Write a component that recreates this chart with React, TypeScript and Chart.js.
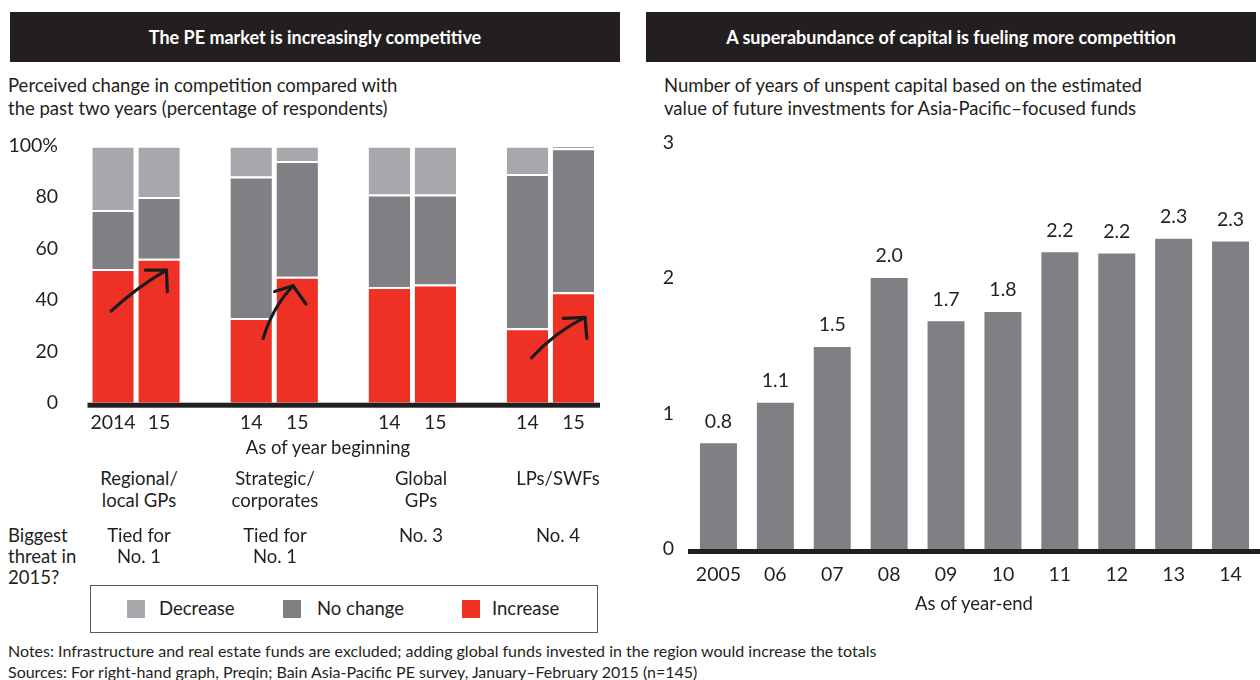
import React, { useEffect, useRef } from "react";
import { Chart, registerables } from "chart.js";

Chart.register(...registerables);

// ---------- Data: left chart ----------
const compCategories = ["2014", "15", "", "14", "15", "", "14", "15", "", "14", "15"];
const increaseValues = [52, 56, null, 33, 49, null, 45, 46, null, 29, 43];
const noChangeValues = [23, 24, null, 55, 45, null, 36, 35, null, 60, 56];
const decreaseValues = [25, 20, null, 12, 6, null, 19, 19, null, 11, 1];
const compYTicks = [0, 20, 40, 60, 80, 100];
const seriesNames = ["Decrease", "No change", "Increase"];
const groupLabels = [["Regional/", "local GPs"], ["Strategic/", "corporates"], ["Global", "GPs"], ["LPs/SWFs"]];
const threatLabels = [["Tied for", "No. 1"], ["Tied for", "No. 1"], ["No. 3"], ["No. 4"]];

// ---------- Data: right chart ----------
const capitalYears = ["2005", "06", "07", "08", "09", "10", "11", "12", "13", "14"];
const capitalValues = [0.78, 1.08, 1.49, 2.0, 1.68, 1.75, 2.19, 2.18, 2.29, 2.27];
const capitalYTicks = [0, 1, 2, 3];

// ---------- Styles ----------
const FONT = "Lato, 'Noto Sans', sans-serif";
const INK = "#231f20";
const RED = "#ee3124";
const DARK = "#808084";
const LIGHT = "#a7a8ac";
const TXT = 18.5;
const NUM = 19.5;

// hand-drawn arrows (in category-index / value units)
const arrowNotes = [
  { from: [-0.04, 35.7], ctrl: [0.51, 44.8], to: [1.16, 51.6], headA: [0.7, 51.6], headB: [1.18, 43.2] },
  { from: [3.26, 25], ctrl: [3.46, 37], to: [3.91, 45.5], headA: [3.51, 43.3], headB: [4.19, 38.4] },
  { from: [9.09, 17.5], ctrl: [9.59, 27.3], to: [10.25, 33.2], headA: [9.78, 32.8], headB: [10.29, 25] },
];

const noScalePadding = (s: any) => {
  s.paddingTop = 0;
  s.paddingBottom = 0;
  s.paddingLeft = 0;
  s.paddingRight = 0;
};

const baselinePlugin = {
  id: "baseline",
  afterDatasetsDraw(chart: any) {
    const { ctx, chartArea } = chart;
    const ext = chart.options.plugins.baseline || {};
    ctx.save();
    ctx.fillStyle = INK;
    ctx.fillRect(chartArea.left - (ext.left ?? 2), chartArea.bottom, chartArea.right - chartArea.left + (ext.left ?? 2) + (ext.right ?? 3), 5);
    ctx.restore();
  },
};

const arrowPlugin = {
  id: "arrows",
  afterDatasetsDraw(chart: any) {
    const { ctx } = chart;
    const xs = chart.scales.x;
    const ys = chart.scales.y;
    const P = (p: number[]) => [xs.getPixelForValue(p[0]), ys.getPixelForValue(p[1])];
    ctx.save();
    ctx.strokeStyle = "#1b1b1b";
    ctx.lineWidth = 3.2;
    ctx.lineCap = "round";
    ctx.lineJoin = "round";
    arrowNotes.forEach((a) => {
      const f = P(a.from), c = P(a.ctrl), t = P(a.to), h1 = P(a.headA), h2 = P(a.headB);
      ctx.beginPath();
      ctx.moveTo(f[0], f[1]);
      ctx.quadraticCurveTo(c[0], c[1], t[0], t[1]);
      ctx.stroke();
      ctx.beginPath();
      ctx.moveTo(h1[0], h1[1]);
      ctx.lineTo(t[0], t[1]);
      ctx.lineTo(h2[0], h2[1]);
      ctx.stroke();
    });
    ctx.restore();
  },
};

const valueLabelPlugin = {
  id: "valueLabels",
  afterDatasetsDraw(chart: any) {
    const { ctx } = chart;
    const meta = chart.getDatasetMeta(0);
    ctx.save();
    ctx.fillStyle = INK;
    ctx.font = `${NUM}px ${FONT}`;
    ctx.textAlign = "center";
    ctx.textBaseline = "middle";
    meta.data.forEach((bar: any, i: number) => {
      ctx.fillText(capitalValues[i].toFixed(1), bar.x, bar.y - 22);
    });
    ctx.restore();
  },
};

function CompetitionChart() {
  const ref = useRef<HTMLCanvasElement>(null);
  useEffect(() => {
    const seg = { top: 2, left: 0, right: 0, bottom: 0 };
    const chart = new Chart(ref.current as HTMLCanvasElement, {
      type: "bar",
      data: {
        labels: compCategories,
        datasets: [
          { label: seriesNames[2], data: increaseValues, backgroundColor: RED, borderColor: "#ffffff", borderWidth: seg, borderSkipped: false },
          { label: seriesNames[1], data: noChangeValues, backgroundColor: DARK, borderColor: "#ffffff", borderWidth: seg, borderSkipped: false },
          { label: seriesNames[0], data: decreaseValues, backgroundColor: LIGHT, borderColor: "#ffffff", borderWidth: seg, borderSkipped: false },
        ],
      } as any,
      options: {
        animation: false,
        responsive: false,
        events: [],
        layout: { autoPadding: false, padding: { top: 25.7, right: 23.5, left: 0, bottom: 0 } },
        datasets: { bar: { barPercentage: 0.9, categoryPercentage: 1 } } as any,
        plugins: { legend: { display: false }, tooltip: { enabled: false }, baseline: { left: 2.5, right: 3.5 } } as any,
        scales: {
          x: {
            stacked: true,
            grid: { display: false, drawTicks: false },
            border: { display: false },
            ticks: { color: INK, font: { family: FONT, size: NUM }, padding: 8.5, maxRotation: 0, autoSkip: false },
            afterFit: (s: any) => { s.height = 47.3; noScalePadding(s); },
          },
          y: {
            stacked: true,
            min: compYTicks[0],
            max: compYTicks[compYTicks.length - 1],
            grid: { display: false, drawTicks: false },
            border: { display: false },
            afterBuildTicks: (s: any) => { s.ticks = compYTicks.map((v) => ({ value: v })); },
            ticks: {
              color: INK,
              font: { family: FONT, size: NUM },
              padding: 32,
              callback: (v: any) => (v === 100 ? "100%" : String(v)),
            },
            afterFit: (s: any) => { s.width = 90; noScalePadding(s); },
          },
        },
      } as any,
      plugins: [baselinePlugin, arrowPlugin],
    });
    return () => chart.destroy();
  }, []);
  return <canvas ref={ref} width={620} height={330} style={{ position: "absolute", left: 0, top: 120 }} />;
}

function CapitalChart() {
  const ref = useRef<HTMLCanvasElement>(null);
  useEffect(() => {
    const chart = new Chart(ref.current as HTMLCanvasElement, {
      type: "bar",
      data: {
        labels: capitalYears,
        datasets: [{ label: "Years of unspent capital", data: capitalValues, backgroundColor: DARK, borderWidth: 0 }],
      },
      options: {
        animation: false,
        responsive: false,
        events: [],
        layout: { autoPadding: false, padding: { top: 22.5, right: 1, left: 0, bottom: 0 } },
        datasets: { bar: { barPercentage: 0.65, categoryPercentage: 1 } } as any,
        plugins: { legend: { display: false }, tooltip: { enabled: false }, baseline: { left: 2, right: 1 } } as any,
        scales: {
          x: {
            grid: { display: false, drawTicks: false },
            border: { display: false },
            ticks: { color: INK, font: { family: FONT, size: NUM }, padding: 14.5, maxRotation: 0, autoSkip: false },
            afterFit: (s: any) => { s.height = 51; noScalePadding(s); },
          },
          y: {
            min: capitalYTicks[0],
            max: capitalYTicks[capitalYTicks.length - 1],
            grid: { display: false, drawTicks: false },
            border: { display: false },
            afterBuildTicks: (s: any) => { s.ticks = capitalYTicks.map((v) => ({ value: v })); },
            ticks: { color: INK, font: { family: FONT, size: NUM }, padding: 16 },
            afterFit: (s: any) => { s.width = 50; noScalePadding(s); },
          },
        },
      } as any,
      plugins: [baselinePlugin, valueLabelPlugin],
    });
    return () => chart.destroy();
  }, []);
  return <canvas ref={ref} width={620} height={480} style={{ position: "absolute", left: 640, top: 120 }} />;
}

const abs = (s: React.CSSProperties): React.CSSProperties => ({ position: "absolute", whiteSpace: "nowrap", ...s });

function Centered({ x, top, lines, lh = 22 }: { x: number; top: number; lines: string[]; lh?: number }) {
  return (
    <div style={abs({ left: x - 100, width: 200, top, textAlign: "center", fontSize: TXT, lineHeight: `${lh}px` })}>
      {lines.map((l, i) => (
        <div key={i}>{l}</div>
      ))}
    </div>
  );
}

export default function App() {
  const groupCenters = [139, 275, 421, 558];
  const legendColors = [LIGHT, DARK, RED];
  const legendSquareX = [127, 283, 462];
  const legendTextX = [159, 317, 492];
  const header: React.CSSProperties = { top: 12, width: 610, height: 50, background: INK, color: "#fff", fontWeight: 700, fontSize: 18, lineHeight: "50px", textAlign: "center" };
  return (
    <div style={{ position: "absolute", left: 0, top: 0, width: 1260, height: 680, background: "#fff", fontFamily: FONT, color: INK, overflow: "hidden" }}>
      <div style={abs({ ...header, left: 10 })}>The PE market is increasingly competitive</div>
      <div style={abs({ ...header, left: 646 })}>A superabundance of capital is fueling more competition</div>
      <div style={abs({ left: 8, top: 74, fontSize: TXT, lineHeight: "22.5px" })}>
        <div>Perceived change in competition compared with</div>
        <div>the past two years (percentage of respondents)</div>
      </div>
      <div style={abs({ left: 664, top: 74, fontSize: TXT, lineHeight: "22.5px" })}>
        <div>Number of years of unspent capital based on the estimated</div>
        <div>value of future investments for Asia-Pacific–focused funds</div>
      </div>

      <CompetitionChart />
      <CapitalChart />

      <Centered x={328} top={436} lines={["As of year beginning"]} />
      <Centered x={974} top={592} lines={["As of year-end"]} />

      {groupLabels.map((g, i) => (
        <Centered key={"g" + i} x={groupCenters[i]} top={467} lines={g} />
      ))}
      <div style={abs({ left: 8, top: 525, fontSize: TXT, lineHeight: "21px" })}>
        <div>Biggest</div>
        <div>threat in</div>
        <div>2015?</div>
      </div>
      {threatLabels.map((g, i) => (
        <Centered key={"t" + i} x={groupCenters[i]} top={525} lines={g} lh={21} />
      ))}

      <div style={abs({ left: 90, top: 585, width: 506, height: 46, border: "1px solid #58595b" })} />
      {seriesNames.map((n, i) => (
        <React.Fragment key={"l" + i}>
          <div style={abs({ left: legendSquareX[i], top: 600, width: 18, height: 18, background: legendColors[i] })} />
          <div style={abs({ left: legendTextX[i], top: 597, fontSize: TXT, lineHeight: "22px" })}>{n}</div>
        </React.Fragment>
      ))}

      <div style={abs({ left: 8, top: 640, fontSize: 16, lineHeight: "21px" })}>
        <div>Notes: Infrastructure and real estate funds are excluded; adding global funds invested in the region would increase the totals</div>
        <div>Sources: For right-hand graph, Preqin; Bain Asia-Pacific PE survey, January–February 2015 (n=145)</div>
      </div>
    </div>
  );
}
